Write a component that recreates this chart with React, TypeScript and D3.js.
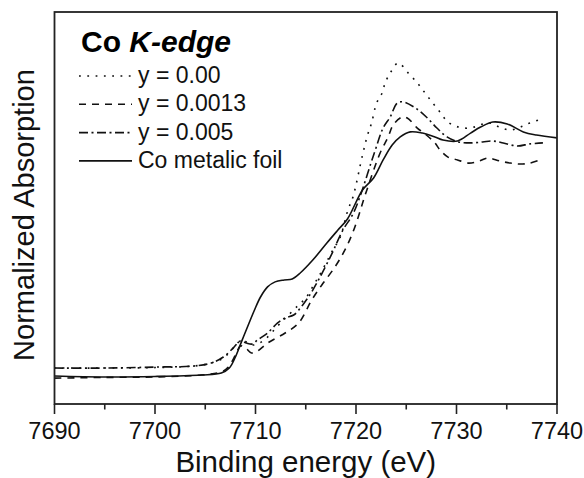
import React from "react";
import * as d3 from "d3";

// Energy grid (eV) and normalized absorption for each sample
const energyY000 = [7690, 7695, 7700, 7704, 7705.6, 7706.8, 7707.8, 7708.5, 7709.1, 7709.7, 7710.4, 7711.2, 7712.2, 7713.2, 7714.2, 7715.0, 7715.9, 7716.6, 7717.7, 7718.4, 7719.2, 7719.7, 7720.65, 7721.15, 7721.55, 7722.05, 7722.6, 7722.9, 7723.4, 7724.2, 7725.2, 7726.1, 7726.8, 7727.55, 7728.35, 7729.15, 7730.2, 7731.4, 7732.3, 7733.3, 7734.3, 7735.35, 7736.35, 7737.3, 7738.5];
const absY000 = [0.029, 0.029, 0.031, 0.038, 0.05, 0.071, 0.113, 0.142, 0.138, 0.125, 0.133, 0.158, 0.204, 0.246, 0.288, 0.321, 0.383, 0.433, 0.521, 0.571, 0.688, 0.742, 0.917, 1.0, 1.05, 1.133, 1.175, 1.217, 1.258, 1.3, 1.258, 1.217, 1.179, 1.138, 1.096, 1.054, 1.033, 1.029, 1.042, 1.05, 1.033, 1.021, 1.033, 1.05, 1.067];

const energyY0013 = [7690, 7695, 7700, 7704.6, 7706.6, 7707.3, 7708.0, 7708.5, 7709.0, 7709.6, 7710.2, 7711.2, 7712.95, 7714.3, 7715.6, 7716.6, 7717.9, 7718.9, 7719.7, 7720.35, 7720.85, 7722.4, 7723.2, 7723.7, 7724.6, 7725.1, 7726.1, 7727.0, 7727.85, 7728.35, 7729.15, 7730.1, 7731.2, 7732.3, 7733.1, 7734.3, 7735.35, 7736.35, 7737.3, 7738.3];
const absY0013 = [-0.013, -0.01, -0.008, 0.0, 0.013, 0.033, 0.083, 0.121, 0.113, 0.092, 0.1, 0.133, 0.175, 0.217, 0.313, 0.375, 0.45, 0.521, 0.596, 0.675, 0.742, 0.925, 0.992, 1.042, 1.075, 1.071, 1.029, 1.0, 0.967, 0.938, 0.908, 0.896, 0.883, 0.892, 0.904, 0.892, 0.883, 0.879, 0.883, 0.896];

const energyY005 = [7690, 7695, 7700, 7704, 7705.6, 7706.8, 7707.8, 7708.5, 7709.1, 7709.7, 7710.2, 7711.2, 7712.2, 7712.95, 7713.8, 7714.7, 7715.7, 7717.4, 7718.7, 7719.65, 7720.35, 7721.85, 7722.7, 7723.4, 7724.1, 7724.7, 7725.9, 7727.0, 7728.05, 7729.05, 7730.2, 7731.4, 7732.6, 7733.6, 7734.65, 7736.05, 7737.3, 7738.6];
const absY005 = [0.029, 0.029, 0.033, 0.038, 0.05, 0.075, 0.113, 0.142, 0.133, 0.129, 0.146, 0.175, 0.217, 0.238, 0.25, 0.292, 0.354, 0.488, 0.604, 0.667, 0.738, 0.929, 1.029, 1.075, 1.133, 1.138, 1.113, 1.075, 1.029, 0.992, 0.971, 0.967, 0.971, 0.975, 0.967, 0.954, 0.963, 0.967];

const energyFoil = [7690, 7695, 7700, 7704.6, 7706.6, 7707.4, 7708.0, 7708.6, 7709.2, 7709.9, 7710.5, 7711.2, 7711.95, 7712.85, 7713.65, 7714.45, 7715.7, 7717.1, 7718.2, 7719.15, 7720.65, 7721.75, 7722.7, 7723.6, 7724.4, 7725.4, 7726.6, 7727.85, 7728.65, 7730.1, 7731.4, 7732.4, 7733.6, 7735.05, 7736.65, 7737.95, 7740];
const absFoil = [-0.004, -0.008, -0.006, 0.0, 0.008, 0.029, 0.075, 0.138, 0.2, 0.271, 0.325, 0.367, 0.388, 0.396, 0.4, 0.425, 0.479, 0.55, 0.604, 0.65, 0.771, 0.821, 0.896, 0.958, 0.992, 1.013, 1.008, 0.992, 0.979, 0.975, 1.008, 1.033, 1.054, 1.046, 1.013, 1.0, 0.988];

const xTicks = [7690, 7700, 7710, 7720, 7730, 7740];
const xMinorTicks = [7695, 7705, 7715, 7725, 7735];

const seriesLabels = ["y = 0.00", "y = 0.0013", "y = 0.005", "Co metalic foil"];
const seriesDash = ["1.8,6.5", "7,6", "9,3.5,2,3.5", "none"];

const W = 584;
const H = 478;
const left = 54.5;
const right = 557;
const top = 12;
const bottom = 404;

const FONT = "'Liberation Sans', Arial, Helvetica, sans-serif";

export default function App() {
  const x = d3.scaleLinear().domain([7690, 7740]).range([left, right]);
  const y = d3.scaleLinear().domain([-0.1208, 1.5125]).range([bottom, top]);

  const line = d3
    .line<[number, number]>()
    .x((d) => x(d[0]))
    .y((d) => y(d[1]))
    .curve(d3.curveCatmullRom.alpha(0.5));

  const series = [
    { e: energyY000, a: absY000 },
    { e: energyY0013, a: absY0013 },
    { e: energyY005, a: absY005 },
    { e: energyFoil, a: absFoil },
  ].map((s, i) => ({
    path: line(s.e.map((v, j) => [v, s.a[j]] as [number, number])) || "",
    dash: seriesDash[i],
    label: seriesLabels[i],
  }));

  const legendX0 = 79;
  const legendX1 = 132;
  const legendTextX = 138;
  const legendBase = 83;
  const legendStep = 28.3;

  return (
    <svg
      width={W}
      height={H}
      style={{ position: "absolute", left: 0, top: 0, background: "#fff" }}
      fontFamily={FONT}
    >
      <rect x={0} y={0} width={W} height={H} fill="#fff" />
      <defs>
        <clipPath id="plot-clip">
          <rect x={left} y={top} width={right - left} height={bottom - top} />
        </clipPath>
      </defs>

      <g clipPath="url(#plot-clip)">
        {series.map((s, i) => (
          <path
            key={i}
            d={s.path}
            fill="none"
            stroke="#111"
            strokeWidth={1.6}
            strokeDasharray={s.dash === "none" ? undefined : s.dash}
          />
        ))}
      </g>

      {/* frame */}
      <rect
        x={left}
        y={top}
        width={right - left}
        height={bottom - top}
        fill="none"
        stroke="#222"
        strokeWidth={1.8}
      />

      {/* x ticks */}
      {xTicks.map((t) => (
        <g key={t}>
          <line x1={x(t)} x2={x(t)} y1={bottom} y2={bottom + 10} stroke="#222" strokeWidth={1.6} />
          <text x={x(t)} y={439} textAnchor="middle" fontSize={23.5} fill="#111">
            {t}
          </text>
        </g>
      ))}
      {xMinorTicks.map((t) => (
        <line key={t} x1={x(t)} x2={x(t)} y1={bottom} y2={bottom + 5.5} stroke="#222" strokeWidth={1.6} />
      ))}

      <text x={(left + right) / 2} y={472} textAnchor="middle" fontSize={29.5} fill="#111">
        Binding energy (eV)
      </text>
      <text
        transform={`translate(34,215) rotate(-90)`}
        textAnchor="middle"
        fontSize={29}
        fill="#111"
      >
        Normalized Absorption
      </text>

      {/* legend */}
      <text x={81} y={52} fontSize={30} fontWeight="bold" fill="#000">
        Co <tspan fontStyle="italic">K-edge</tspan>
      </text>
      {series.map((s, i) => {
        const base = legendBase + i * legendStep;
        return (
          <g key={i}>
            <line
              x1={legendX0}
              x2={legendX1}
              y1={base - 7}
              y2={base - 7}
              stroke="#111"
              strokeWidth={1.6}
              strokeDasharray={s.dash === "none" ? undefined : s.dash}
            />
            <text x={legendTextX} y={base} fontSize={23} fill="#111">
              {s.label}
            </text>
          </g>
        );
      })}
    </svg>
  );
}
